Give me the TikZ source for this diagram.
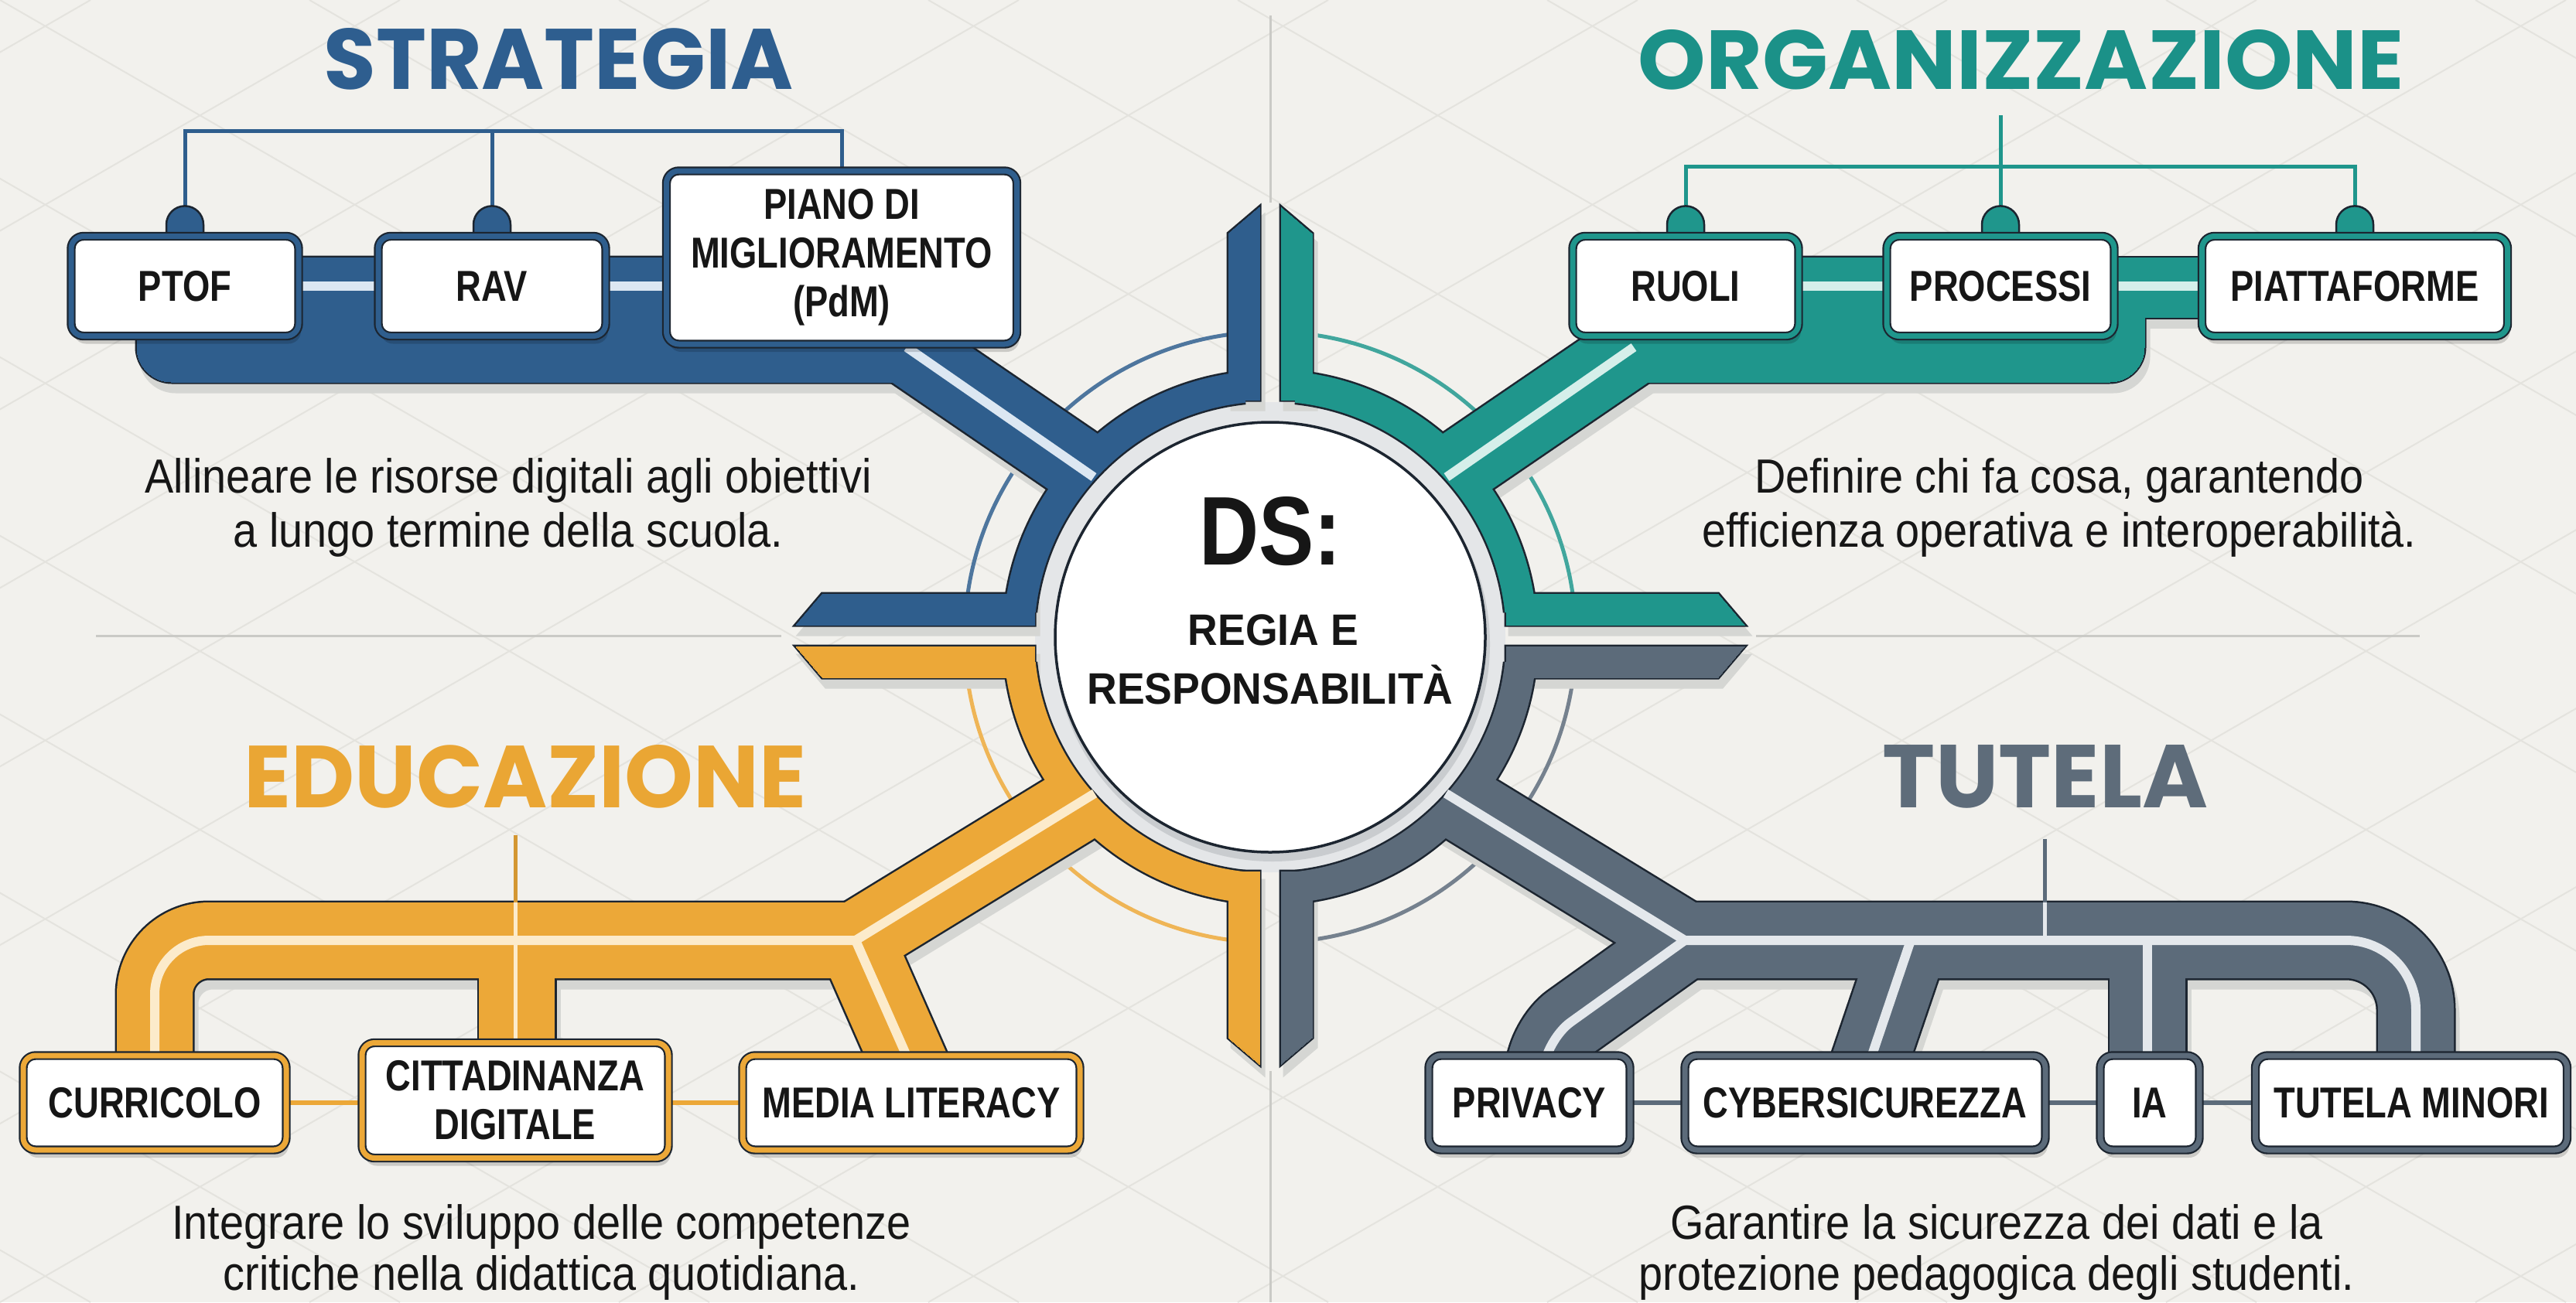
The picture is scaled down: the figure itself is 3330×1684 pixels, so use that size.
\documentclass[tikz,border=0pt]{standalone}
\usepackage{graphicx}
\usepackage{fontspec}
\setmainfont{Liberation Sans}
\newfontfamily\labfont[FakeStretch=0.81]{Liberation Sans}
\newfontfamily\circfont[FakeStretch=0.94]{Liberation Sans}
\newfontfamily\bodyfont[FakeStretch=0.9]{Liberation Sans}
\newfontfamily\titfont{Poppins}
\usetikzlibrary{shadows}
\pgfdeclarelayer{back}
\pgfdeclarelayer{mid}
\pgfsetlayers{back,mid,main}

\definecolor{bgc}{HTML}{F2F1ED}
\definecolor{patc}{HTML}{E4E3DE}
\definecolor{divc}{HTML}{CACAC6}
\definecolor{dk}{HTML}{1C2530}
\definecolor{shc}{HTML}{D5D6D3}
\definecolor{gapc}{HTML}{E4E6E8}
\definecolor{cshc}{HTML}{C9CCCF}
\definecolor{cb}{HTML}{2F5E8D}
\definecolor{ct}{HTML}{1F968C}
\definecolor{cy}{HTML}{ECA838}
\definecolor{cg}{HTML}{5C6B7A}
\definecolor{sb}{HTML}{DCE7F2}
\definecolor{st}{HTML}{D5EFEA}
\definecolor{sy}{HTML}{FCEBCB}
\definecolor{sg}{HTML}{E4E8EC}
\definecolor{txt}{HTML}{161616}
\definecolor{tb}{HTML}{2E5E8F}
\definecolor{tt}{HTML}{1B9188}
\definecolor{ty}{HTML}{EAA634}
\definecolor{tg}{HTML}{5E6C7A}

% road networks: #1 colour, #2 extra width
\newcommand\netB[2]{%
 \filldraw[#1,line width=#2pt] (1588,517) -- (1588,302) -- (1628,268) -- (1628,517) -- cycle;
 \filldraw[#1,line width=#2pt] (1337,768) -- (1063,768) -- (1029,808) -- (1337,808) -- cycle;
 \draw[#1,line width=40pt+#2pt] ([shift={(264:325)}]C) arc[start angle=264,end angle=186,radius=325];
 \filldraw[#1,line width=#2pt,rounded corners=45pt] (177,333) -- (177,494) -- (1200,494) -- (1200,333) -- cycle;
 \draw[#1,line width=95pt+#2pt] (1408,611) -- (1143,430);
}
\newcommand\netT[2]{%
 \filldraw[#1,line width=#2pt] (1656,517) -- (1656,268) -- (1696,302) -- (1696,517) -- cycle;
 \filldraw[#1,line width=#2pt] (1947,768) -- (2221,768) -- (2255,808) -- (1947,808) -- cycle;
 \draw[#1,line width=40pt+#2pt] ([shift={(276:325)}]C) arc[start angle=276,end angle=354,radius=325];
 \filldraw[#1,line width=#2pt] (2060,333) rectangle (3044,410);
 \filldraw[#1,line width=#2pt,rounded corners=45pt] (2060,333) rectangle (2772,494);
 \draw[#1,line width=95pt+#2pt] (1876,611) -- (2141,430);
}
\newcommand\netY[2]{%
 \filldraw[#1,line width=#2pt] (1588,1127) -- (1588,1342) -- (1628,1376) -- (1628,1127) -- cycle;
 \filldraw[#1,line width=#2pt] (1337,836) -- (1029,836) -- (1063,876) -- (1337,876) -- cycle;
 \draw[#1,line width=40pt+#2pt] ([shift={(96:325)}]C) arc[start angle=96,end angle=174,radius=325];
 \draw[#1,line width=98pt+#2pt] (1406,1032) -- (1096,1222);
 \draw[#1,line width=98pt+#2pt,rounded corners=70pt] (1146,1216) -- (200,1216) -- (200,1440);
 \draw[#1,line width=98pt+#2pt] (1106,1216) -- (1200,1430);
 \draw[#1,line width=98pt+#2pt] (668,1216) -- (668,1440);
}
\newcommand\netG[2]{%
 \filldraw[#1,line width=#2pt] (1656,1127) -- (1656,1376) -- (1696,1342) -- (1696,1127) -- cycle;
 \filldraw[#1,line width=#2pt] (1947,836) -- (2255,836) -- (2221,876) -- (1947,876) -- cycle;
 \draw[#1,line width=40pt+#2pt] ([shift={(84:325)}]C) arc[start angle=84,end angle=6,radius=325];
 \draw[#1,line width=98pt+#2pt] (1878,1032) -- (2188,1222);
 \draw[#1,line width=98pt+#2pt,rounded corners=90pt] (2138,1216) -- (3123,1216) -- (3123,1440);
 \draw[#1,line width=98pt+#2pt,rounded corners=40pt] (2178,1216) -- (1998,1345) -- (1993,1440);
 \draw[#1,line width=98pt+#2pt] (2470,1216) -- (2394,1440);
 \draw[#1,line width=98pt+#2pt] (2776,1216) -- (2776,1440);
}
\newcommand\bump[2]{\filldraw[fill=#2,draw=dk,line width=2.5pt] (#1) ++(-24,8) -- ++(0,-22) arc[start angle=180,end angle=360,radius=24] -- ++(0,22) -- cycle;}

\begin{document}
\begin{tikzpicture}[x=1pt,y=-1pt,
  lbox/.style={draw=dk, double=#1, double distance=7pt, line width=2.2pt, fill=white,
    rounded corners=16pt, align=center, inner sep=0pt, text=txt,
    font=\labfont\bfseries\fontsize{56}{63}\selectfont,
    drop shadow={shadow xshift=3pt,shadow yshift=-10pt,opacity=0.16,fill=black}},
  body/.style={anchor=base, font=\bodyfont\fontsize{62}{70}\selectfont, text=txt},
  circtxt/.style={anchor=base, font=\circfont\bfseries\fontsize{57}{60}\selectfont, text=txt},
  conb/.style={cb,line width=5pt},
  cont/.style={ct,line width=5pt},
  stripe/.style={#1,line width=12pt}]
\useasboundingbox (0,0) rectangle (3330,1684);
\coordinate (C) at (1642,824);

\begin{pgfonlayer}{back}
\fill[bgc] (0,0) rectangle (3330,1684);
\begin{scope}
\clip (0,0) rectangle (3330,1684);
\foreach \k in {-8,...,9}{
  \draw[patc,line width=2pt] (\k*400,0) -- ++(2917,1684);
  \draw[patc,line width=2pt] (\k*400,1684) -- ++(2917,-1684);
}
\end{scope}
\draw[divc,line width=3pt] (1642,20) -- (1642,262);
\draw[divc,line width=3pt] (1642,1385) -- (1642,1684);
\draw[divc,line width=3pt] (124,822) -- (1010,822);
\draw[divc,line width=3pt] (2270,822) -- (3128,822);
% thin outer arcs
\draw[cb!85,line width=5pt] ([shift={(184:395)}]C) arc[start angle=184,end angle=266,radius=395];
\draw[ct!85,line width=5pt] ([shift={(274:395)}]C) arc[start angle=274,end angle=356,radius=395];
\draw[cy!85,line width=5pt] ([shift={(94:395)}]C) arc[start angle=94,end angle=176,radius=395];
\draw[cg!85,line width=5pt] ([shift={(86:395)}]C) arc[start angle=86,end angle=4,radius=395];
\fill[gapc] (C) circle[radius=304];
% shadow, outline, fill passes
\begin{scope}[shift={(5,12)}]
 \netB{shc}{5}\netT{shc}{5}\netY{shc}{5}\netG{shc}{5}
\end{scope}
\netB{dk}{5}\netT{dk}{5}\netY{dk}{5}\netG{dk}{5}
\netB{cb}{0}\netT{ct}{0}\netY{cy}{0}\netG{cg}{0}
\end{pgfonlayer}

% boxes
\node[lbox=cb, minimum width=294pt, minimum height=129pt] (ptof) at (239,370) {PTOF};
\node[lbox=cb, minimum width=294pt, minimum height=129pt] (rav) at (636,370) {RAV};
\node[lbox=cb, minimum width=453pt, minimum height=224pt] (pdm) at (1088,333) {PIANO DI\\MIGLIORAMENTO\\(PdM)};
\node[lbox=ct, minimum width=292pt, minimum height=129pt] (ruoli) at (2179,370) {RUOLI};
\node[lbox=ct, minimum width=294pt, minimum height=129pt] (proc) at (2586,370) {PROCESSI};
\node[lbox=ct, minimum width=395pt, minimum height=129pt] (piatt) at (3044,370) {PIATTAFORME};
\node[lbox=cy, minimum width=340pt, minimum height=122pt] (curr) at (200,1426) {CURRICOLO};
\node[lbox=cy, minimum width=396pt, minimum height=149pt] (citta) at (666,1423) {CITTADINANZA\\DIGITALE};
\node[lbox=cy, minimum width=436pt, minimum height=122pt] (media) at (1178,1426) {MEDIA LITERACY};
\node[lbox=cg, minimum width=260pt, minimum height=122pt] (priv) at (1977,1426) {PRIVACY};
\node[lbox=cg, minimum width=466pt, minimum height=122pt] (cyber) at (2411,1426) {CYBERSICUREZZA};
\node[lbox=cg, minimum width=128pt, minimum height=122pt] (ia) at (2779,1426) {IA};
\node[lbox=cg, minimum width=403pt, minimum height=122pt] (tmin) at (3117,1426) {TUTELA MINORI};

\coordinate (sj) at (665,169);
\coordinate (oj) at (2612,215);
\coordinate (gl) at (2643,1085);

\begin{pgfonlayer}{mid}
% stripes
\draw[stripe=sb] (1414,617) -- (1172,449);
\draw[stripe=sb] (ptof.east) -- (rav.west);
\draw[stripe=sb] (rav.east) -- (rav.east -| pdm.west);
\draw[stripe=st] (1870,617) -- (2112,449);
\draw[stripe=st] (ruoli.east) -- (proc.west);
\draw[stripe=st] (proc.east) -- (piatt.west);
\draw[stripe=sy] (1415,1026) -- (1106,1216);
\draw[stripe=sy,rounded corners=70pt] (1106,1216) -- (200,1216) -- (200,1370);
\draw[stripe=sy] (1106,1216) -- (1174,1370);
\draw[stripe=sg] (1869,1026) -- (2178,1216);
\draw[stripe=sg,rounded corners=90pt] (2178,1216) -- (3123,1216) -- (3123,1370);
\draw[stripe=sg,rounded corners=40pt] (2178,1216) -- (1998,1345) -- (1996,1370);
\draw[stripe=sg] (2470,1216) -- (2418,1370);
\draw[stripe=sg] (2776,1216) -- (2776,1370);
% title connectors
\draw[conb] (ptof.north) -- (ptof.north |- sj) -- (pdm.north |- sj) -- (pdm.north);
\draw[conb] (rav.north) -- (rav.north |- sj);
\bump{ptof.north}{cb}\bump{rav.north}{cb}
\draw[cont] (ruoli.north) -- (ruoli.north |- oj) -- (piatt.north |- oj) -- (piatt.north);
\draw[cont] (proc.north) -- ++(0,-155);
\bump{ruoli.north}{ct}\bump{proc.north}{ct}\bump{piatt.north}{ct}
\draw[sy,line width=5pt] (citta.north) -- (citta.north |- 0,1167);
\draw[cy!90!black,line width=5pt] (citta.north |- 0,1167) -- (citta.north |- 0,1080);
\draw[cg,line width=5pt] (gl) -- (2643,1167);
\draw[sg,line width=5pt] (2643,1167) -- (2643,1216);
% between-box links
\draw[cy,line width=6pt] (curr.east) -- (curr.east -| citta.west);
\draw[cy,line width=6pt] (citta.east |- media.west) -- (media.west);
\draw[cg,line width=6pt] (priv.east) -- (cyber.west);
\draw[cg,line width=6pt] (cyber.east) -- (ia.west);
\draw[cg,line width=6pt] (ia.east) -- (tmin.west);
% circle shadow
\fill[cshc] ([shift={(3,9)}]C) circle[radius=281];
\end{pgfonlayer}

% centre
\node[circle, draw=dk, line width=3.5pt, fill=white, minimum size=556pt, inner sep=0pt] (ds) at (C) {};
\node[anchor=base, text=txt] (dsl) at (1642,730) {\resizebox{184pt}{88pt}{\circfont\bfseries DS:}};
\node[circtxt] (dsr) at (1646,834) {REGIA E};
\node[circtxt] (dsq) at (1642,910) {RESPONSABILITÀ};

% titles
\node[anchor=base, text=tb, inner sep=0pt] (tS) at (722,115) {\resizebox{607pt}{79pt}{\titfont\bfseries STRATEGIA}};
\node[anchor=base, text=tt, inner sep=0pt] (tO) at (2613,115) {\resizebox{990pt}{77pt}{\titfont\bfseries ORGANIZZAZIONE}};
\node[anchor=base, text=ty, inner sep=0pt] (tE) at (679,1044) {\resizebox{727pt}{81pt}{\titfont\bfseries EDUCAZIONE}};
\node[anchor=base, text=tg, inner sep=0pt] (tT) at (2644,1044) {\resizebox{420pt}{81pt}{\titfont\bfseries TUTELA}};

% descriptions
\node[body] (d1a) at (657,637) {Allineare le risorse digitali agli obiettivi};
\node[body] (d1b) at (657,707) {a lungo termine della scuola.};
\node[body] (d2a) at (2662,637) {Definire chi fa cosa, garantendo};
\node[body] (d2b) at (2662,707) {efficienza operativa e interoperabilità.};
\node[body] (d3a) at (700,1602) {Integrare lo sviluppo delle competenze};
\node[body] (d3b) at (700,1668) {critiche nella didattica quotidiana.};
\node[body] (d4a) at (2581,1602) {Garantire la sicurezza dei dati e la};
\node[body] (d4b) at (2581,1668) {protezione pedagogica degli studenti.};
\end{tikzpicture}
\end{document}
